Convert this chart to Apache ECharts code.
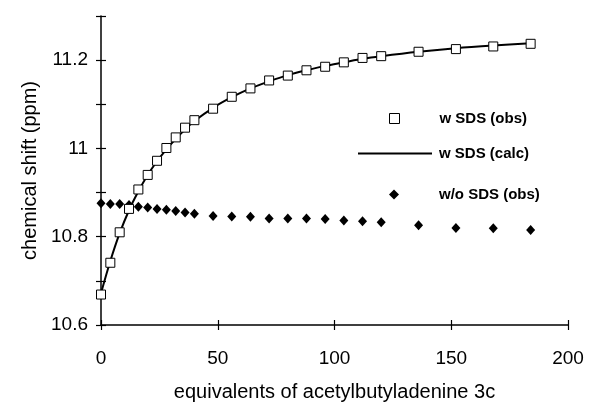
<!DOCTYPE html>
<html>
<head>
<meta charset="utf-8">
<script src="https://cdn.jsdelivr.net/npm/echarts@6/dist/echarts.min.js"></script>
<style>html,body{margin:0;padding:0;background:#fff;}#c{width:589px;height:407px;}</style>
</head>
<body>
<div id="c"></div>
<script>
const equivalents = [0,4,8,12,16,20,24,28,32,36,40,48,56,64,72,80,88,96,104,112,120,136,152,168,184];
const withSdsObs = [10.669,10.741,10.810,10.863,10.907,10.940,10.972,11.001,11.025,11.047,11.064,11.090,11.117,11.136,11.154,11.165,11.177,11.185,11.195,11.205,11.209,11.219,11.225,11.231,11.237];
const withSdsCalc = [10.672,10.745,10.808,10.860,10.903,10.940,10.971,10.998,11.022,11.043,11.062,11.092,11.116,11.136,11.152,11.166,11.177,11.187,11.195,11.203,11.209,11.219,11.227,11.233,11.238];
const withoutSdsObs = [10.876,10.874,10.874,10.872,10.868,10.866,10.863,10.861,10.858,10.855,10.852,10.847,10.846,10.845,10.841,10.841,10.841,10.840,10.837,10.835,10.833,10.826,10.820,10.819,10.815];
const xTickLabels = ['0','50','100','150','200'];
const yTickLabels = ['10.6','10.8','11','11.2'];
const seriesNames = ['w SDS (obs)','w SDS (calc)','w/o SDS (obs)'];
const xTitle = 'equivalents of acetylbutyladenine 3c';
const yTitle = 'chemical shift (ppm)';

const FONT = '"Liberation Sans", Arial, Helvetica, sans-serif';
const pairs = ys => equivalents.map((x,i)=>[x, ys[i]]);

const yFmt = v => {
  const s = String(Math.round(v*10)/10);
  return yTickLabels.includes(s) ? s : '';
};
const xFmt = v => {
  const s = String(Math.round(v));
  return xTickLabels.includes(s) ? s : '';
};

const chart = echarts.init(document.getElementById('c'), null, {renderer:'canvas'});
const axisLine = {show:true, lineStyle:{color:'#000', width:1.5}};
chart.setOption({
  animation:false,
  backgroundColor:'#fff',
  grid:{left:101, right:21, top:16, bottom:75},
  xAxis:[{
    type:'value', min:0, max:200, interval:50,
    axisLine:axisLine,
    axisTick:{show:true, inside:false, length:5, lineStyle:{color:'#000', width:1.2}},
    splitLine:{show:false},
    axisLabel:{formatter:xFmt, color:'#000', fontFamily:FONT, fontSize:19, margin:24},
    name:xTitle, nameLocation:'middle', nameGap:57,
    nameTextStyle:{color:'#000', fontFamily:FONT, fontSize:20}
  },{
    type:'value', min:0, max:200, interval:50, position:'bottom',
    axisLine:{show:false},
    axisTick:{show:true, inside:true, length:5, lineStyle:{color:'#000', width:1.2}},
    splitLine:{show:false}, axisLabel:{show:false}
  }],
  yAxis:[{
    type:'value', min:10.6, max:11.3, interval:0.1,
    axisLine:axisLine,
    axisTick:{show:true, inside:false, length:5, lineStyle:{color:'#000', width:1.2}},
    splitLine:{show:false},
    axisLabel:{formatter:yFmt, color:'#000', fontFamily:FONT, fontSize:19, margin:13},
    name:yTitle, nameLocation:'middle', nameGap:60, nameRotate:90,
    nameTextStyle:{color:'#000', fontFamily:FONT, fontSize:20}
  },{
    type:'value', min:10.6, max:11.3, interval:0.1, position:'left',
    axisLine:{show:false},
    axisTick:{show:true, inside:true, length:5, lineStyle:{color:'#000', width:1.2}},
    splitLine:{show:false}, axisLabel:{show:false}
  }],
  legend:[
    {data:[seriesNames[0]], left:389, top:111, padding:0, itemWidth:10, itemHeight:10, icon:'rect',
     itemStyle:{color:'#fff', borderColor:'#000', borderWidth:1},
     textStyle:{color:'#000', fontFamily:FONT, fontSize:15, fontWeight:'bold', padding:[0,0,0,35]}},
    {data:[seriesNames[1]], left:358, top:146, padding:0, itemWidth:74, itemHeight:2, icon:'rect',
     itemStyle:{color:'#000', borderWidth:0},
     textStyle:{color:'#000', fontFamily:FONT, fontSize:15, fontWeight:'bold', padding:[0,0,0,2]}},
    {data:[seriesNames[2]], left:389, top:187, padding:0, itemWidth:10, itemHeight:10, icon:'diamond',
     itemStyle:{color:'#000'},
     textStyle:{color:'#000', fontFamily:FONT, fontSize:15, fontWeight:'bold', padding:[0,0,0,35]}}
  ],
  series:[
    {name:seriesNames[1], type:'line', data:pairs(withSdsCalc), symbol:'none', smooth:0.3,
     lineStyle:{color:'#000', width:2}, itemStyle:{color:'#000'}, z:2},
    {name:seriesNames[2], type:'scatter', data:pairs(withoutSdsObs), symbol:'diamond', symbolSize:[9,10],
     itemStyle:{color:'#000', opacity:1}, z:3},
    {name:seriesNames[0], type:'scatter', data:pairs(withSdsObs), symbol:'rect', symbolSize:9,
     itemStyle:{color:'#fff', borderColor:'#000', borderWidth:1, opacity:1}, z:4}
  ]
});
</script>
</body>
</html>
